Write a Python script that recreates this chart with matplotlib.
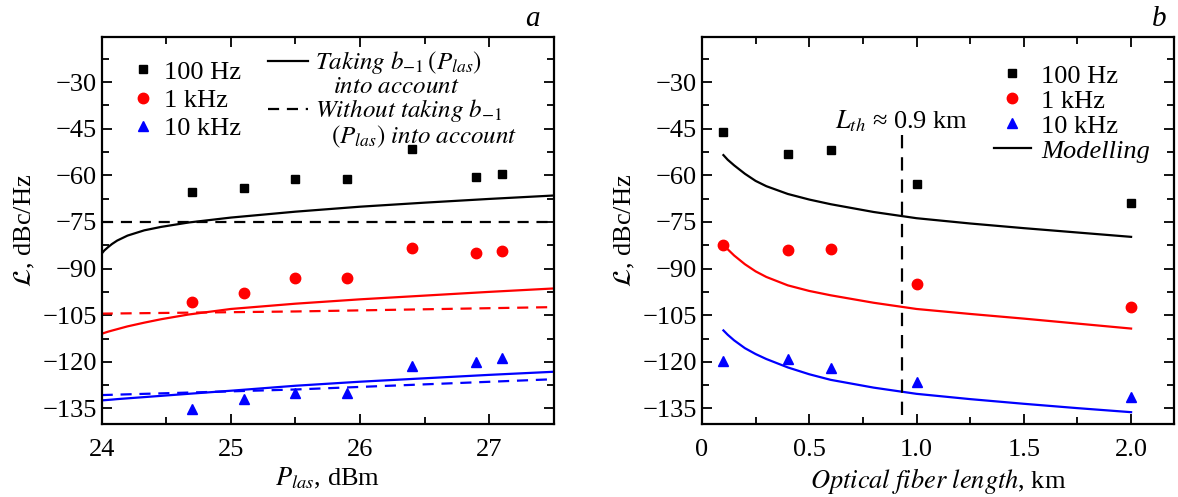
#!/usr/bin/python3

import matplotlib
matplotlib.use('Agg')
import matplotlib.pyplot as plt
from matplotlib.ticker import MultipleLocator

# panel a: measured phase noise vs laser power
p_las = [24.7, 25.1, 25.5, 25.9, 26.4, 26.9, 27.1]
a_100hz = [-65.5, -64.2, -61.2, -61.2, -51.6, -60.5, -59.6]
a_1khz = [-100.9, -98.0, -92.9, -92.9, -83.5, -85.1, -84.5]
a_10khz = [-135.1, -131.9, -130.1, -130.0, -121.5, -120.2, -118.7]

# panel a: model with b_-1(P_las)
p_model = [24.0, 24.02, 24.05, 24.08, 24.12, 24.2, 24.33, 24.46, 24.67, 25.0, 25.5, 26.0, 26.5, 27.0, 27.5]
a_model_100hz = [-85.2, -84.2, -83.1, -82.1, -81.0, -79.4, -77.7, -76.6, -75.2, -73.6, -71.7, -70.1, -68.8, -67.6, -66.5]
a_model_1khz = [-111.0, -110.7, -110.3, -109.95, -109.5, -108.6, -107.4, -106.3, -104.8, -103.0, -101.3, -99.9, -98.7, -97.5, -96.4]
a_model_10khz = [-132.4, -132.35, -132.25, -132.15, -132.0, -131.75, -131.35, -130.95, -130.3, -129.3, -127.7, -126.4, -125.3, -124.2, -123.2]

# panel a: model without b_-1(P_las)
p_const = [24.0, 25.5, 27.5]
a_const_100hz = [-75.0, -75.0, -75.0]
a_const_1khz = [-104.5, -103.8, -102.4]
a_const_10khz = [-130.7, -128.9, -125.6]

# panel b: measured phase noise vs fiber length
fiber_len = [0.1, 0.4, 0.6, 1.0, 2.0]
b_100hz = [-46.0, -53.1, -51.9, -62.7, -69.0]
b_1khz = [-82.3, -84.1, -83.8, -95.0, -102.3]
b_10khz = [-119.8, -119.0, -121.9, -126.4, -131.3]

# panel b: modelling
len_model = [0.1, 0.12, 0.15, 0.2, 0.25, 0.3, 0.4, 0.5, 0.6, 0.8, 1.0, 1.25, 1.5, 1.75, 2.0]
b_model_100hz = [-53.5, -55.0, -56.8, -59.5, -61.8, -63.5, -66.0, -67.8, -69.3, -71.8, -73.8, -75.5, -77.0, -78.4, -79.8]
b_model_1khz = [-82.3, -83.8, -85.8, -88.6, -90.9, -92.7, -95.4, -97.2, -98.6, -101.0, -103.0, -104.6, -106.1, -107.7, -109.3]
b_model_10khz = [-109.9, -111.3, -113.1, -115.6, -117.5, -119.1, -121.8, -124.0, -125.8, -128.3, -130.3, -132.0, -133.5, -134.9, -136.2]

l_th = 0.93
y_ticks = [-135, -120, -105, -90, -75, -60, -45, -30]

DASH = (0, (5, 3.5))


def style_axes(ax, xlim, xminor):
	''' common frame, ticks and limits'''
	ax.set_xlim(*xlim)
	ax.set_ylim(-140, -15.5)
	ax.set_yticks(y_ticks)
	ax.yaxis.set_minor_locator(MultipleLocator(7.5))
	ax.xaxis.set_minor_locator(MultipleLocator(xminor))
	ax.tick_params(which='both', direction='in', top=True, right=True, width=1.3, labelsize=19)
	ax.tick_params(which='major', length=7)
	ax.tick_params(which='minor', length=5)
	ax.tick_params(axis='x', which='major', pad=10.5)
	for s in ax.spines.values():
		s.set_linewidth(1.6)
	ax.set_ylabel(r'$\mathcal{L}$, dBc/Hz', fontsize=19)


def power_plot(ax):
	''' panel a: phase noise vs laser power'''
	h1, = ax.plot(p_las, a_100hz, 's', color='black', ms=6, ls='none')
	h2, = ax.plot(p_las, a_1khz, 'o', color='red', ms=7.5, ls='none')
	h3, = ax.plot(p_las, a_10khz, '^', color='blue', ms=7.5, ls='none')

	m1, = ax.plot(p_model, a_model_100hz, color='black', lw=1.6)
	ax.plot(p_model, a_model_1khz, color='red', lw=1.6)
	ax.plot(p_model, a_model_10khz, color='blue', lw=1.6)

	m2, = ax.plot(p_const, a_const_100hz, color='black', lw=1.6, ls=DASH)
	ax.plot(p_const, a_const_1khz, color='red', lw=1.6, ls=DASH)
	ax.plot(p_const, a_const_10khz, color='blue', lw=1.6, ls=DASH)

	style_axes(ax, (24, 27.5), 0.5)
	ax.set_xticks([24, 25, 26, 27])
	ax.set_xlabel(r'$P_{las}$, dBm', fontsize=19)

	leg1 = ax.legend([h1, h2, h3], ['100 Hz', '1 kHz', '10 kHz'], loc='upper left',
		bbox_to_anchor=(0.068, 0.94), frameon=False, handlelength=0.8, handletextpad=0.4,
		labelspacing=0.18, borderpad=0, borderaxespad=0, fontsize=19)
	ax.add_artist(leg1)
	ax.legend([m1, m2], [r'$Taking\ b_{-1}\,(P_{las})$', r'$Without\ taking\ b_{-1}$'],
		loc='upper left', bbox_to_anchor=(0.369, 0.968), frameon=False, handlelength=1.6,
		handletextpad=0.27, labelspacing=0.84, borderpad=0, borderaxespad=0, fontsize=18)
	ax.text(0.652, 0.871, r'$into\ account$', transform=ax.transAxes, ha='center', va='center', fontsize=18)
	ax.text(0.714, 0.743, r'$(P_{las})$ $into\ account$', transform=ax.transAxes, ha='center', va='center', fontsize=18)
	ax.text(0.97, 1.028, 'a', transform=ax.transAxes, ha='right', va='baseline', fontsize=21, style='italic')


def length_plot(ax):
	''' panel b: phase noise vs optical fiber length'''
	h1, = ax.plot(fiber_len, b_100hz, 's', color='black', ms=6, ls='none')
	h2, = ax.plot(fiber_len, b_1khz, 'o', color='red', ms=7.5, ls='none')
	h3, = ax.plot(fiber_len, b_10khz, '^', color='blue', ms=7.5, ls='none')

	m1, = ax.plot(len_model, b_model_100hz, color='black', lw=1.6)
	ax.plot(len_model, b_model_1khz, color='red', lw=1.6)
	ax.plot(len_model, b_model_10khz, color='blue', lw=1.6)

	ax.vlines(l_th, -137, -46, colors='black', lw=1.6, linestyles=(0, (6, 4)))
	ax.text(0.62, -42.5, r'$L_{th}$ ≈ 0.9 km', ha='left', va='center', fontsize=19)

	style_axes(ax, (0, 2.2), 0.25)
	ax.set_xticks([0, 0.5, 1.0, 1.5, 2.0])
	ax.set_xticklabels(['0', '0.5', '1.0', '1.5', '2.0'])
	ax.set_xlabel(r'$Optical\ fiber\ length$, km', fontsize=19)

	leg = ax.legend([h1, h2, h3, m1], ['100 Hz', '1 kHz', '10 kHz', 'Modelling'], loc='upper left',
		bbox_to_anchor=(0.618, 0.93), frameon=False, handlelength=1.4, handletextpad=0.4,
		labelspacing=0.06, borderpad=0, borderaxespad=0, fontsize=19)
	leg.get_texts()[3].set_fontstyle('italic')
	ax.text(0.985, 1.028, 'b', transform=ax.transAxes, ha='right', va='baseline', fontsize=21, style='italic')


def main():
	''' builds both panels and saves'''
	plt.rcParams['font.family'] = ['Liberation Serif', 'DejaVu Serif']
	plt.rcParams['mathtext.fontset'] = 'stix'

	fig = plt.figure(figsize=(11.78, 4.97), dpi=100)
	ax_a = fig.add_axes([0.0863, 0.1469, 0.3837, 0.7787])
	ax_b = fig.add_axes([0.5959, 0.1469, 0.4007, 0.7787])
	power_plot(ax_a)
	length_plot(ax_b)
	fig.savefig('out.png', dpi=100)

	return


if __name__ == '__main__':
	main()
